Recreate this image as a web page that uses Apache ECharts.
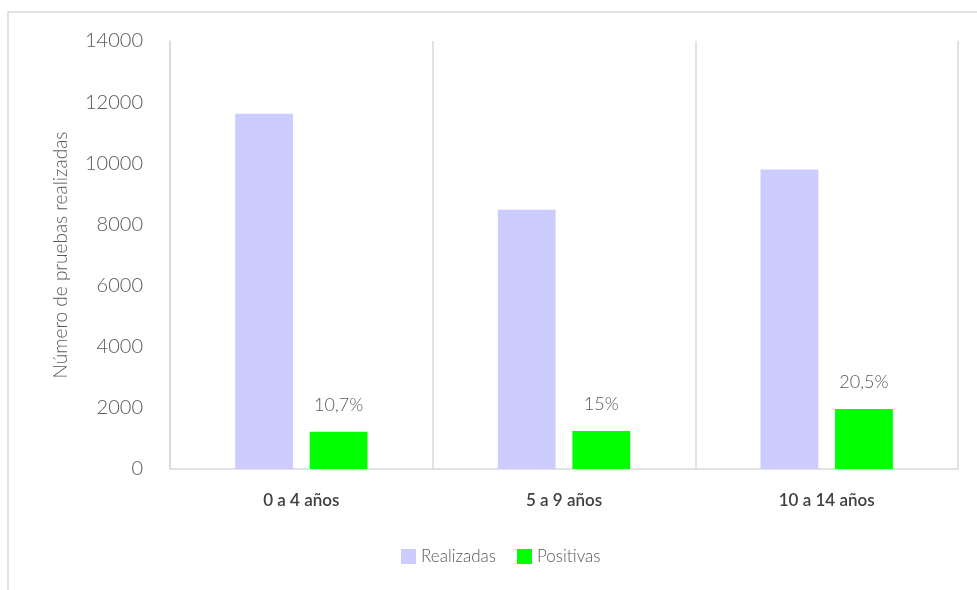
<!DOCTYPE html>
<html>
<head>
<meta charset="utf-8">
<script src="https://cdn.jsdelivr.net/npm/echarts@6/dist/echarts.min.js"></script>
<style>
  html, body { margin: 0; padding: 0; background: #ffffff; }
  #chart { width: 977px; height: 590px; }
</style>
</head>
<body>
<div id="chart"></div>
<script>
// Pruebas realizadas y positivas por grupo de edad
const categories = ['0 a 4 años', '5 a 9 años', '10 a 14 años'];
const realizadas = [11620, 8480, 9800];
const positivas = [1220, 1240, 1960];
const positivityLabels = ['10,7%', '15%', '20,5%'];
const yTicks = { min: 0, max: 14000, interval: 2000 };

const FONT = 'Lato';
const chart = echarts.init(document.getElementById('chart'));

chart.setOption({
  backgroundColor: '#ffffff',
  textStyle: { fontFamily: FONT },
  graphic: [{
    type: 'rect',
    shape: { x: 8, y: 12, width: 1200, height: 1000 },
    style: { fill: 'none', stroke: '#d9d9d9', lineWidth: 1.5 },
    silent: true
  }],
  legend: {
    left: 396,
    top: 543,
    itemWidth: 15,
    itemHeight: 15,
    itemGap: 21,
    icon: 'rect',
    textStyle: { color: '#595959', fontSize: 17, fontWeight: 300, fontFamily: FONT },
    data: ['Realizadas', 'Positivas']
  },
  grid: { left: 170, right: 19, top: 41, bottom: 121 },
  xAxis: {
    type: 'category',
    data: categories,
    axisLine: { show: true, lineStyle: { color: '#d9d9d9', width: 1.5 } },
    axisTick: { show: false },
    splitLine: { show: true, lineStyle: { color: '#d9d9d9', width: 1.5 } },
    axisLabel: { color: '#404040', fontSize: 17, fontWeight: 600, margin: 23, fontFamily: FONT }
  },
  yAxis: {
    type: 'value',
    min: yTicks.min,
    max: yTicks.max,
    interval: yTicks.interval,
    name: 'Número de pruebas realizadas',
    nameLocation: 'middle',
    nameGap: 100,
    nameTextStyle: { color: '#595959', fontSize: 19, fontWeight: 300, fontFamily: FONT },
    axisLine: { show: true, lineStyle: { color: '#d9d9d9', width: 1.5 } },
    axisTick: { show: false },
    splitLine: { show: false },
    axisLabel: {
      color: '#595959', fontSize: 20, fontWeight: 300, margin: 27, fontFamily: FONT,
      formatter: v => String(v)
    }
  },
  series: [
    {
      name: 'Realizadas',
      type: 'bar',
      data: realizadas,
      barWidth: '22%',
      barGap: '29%',
      itemStyle: { color: '#ccccff' }
    },
    {
      name: 'Positivas',
      type: 'bar',
      data: positivas,
      barWidth: '22%',
      itemStyle: { color: '#00ff00' },
      label: {
        show: true,
        position: 'top',
        distance: 18,
        color: '#595959',
        fontSize: 18,
        fontWeight: 300,
        fontFamily: FONT,
        formatter: p => positivityLabels[p.dataIndex]
      }
    }
  ]
});
</script>
</body>
</html>
